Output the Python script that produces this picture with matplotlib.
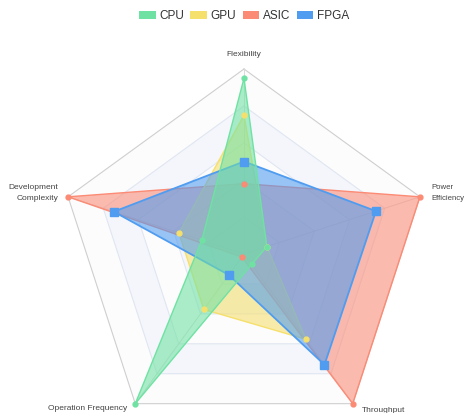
import numpy as np
import matplotlib
matplotlib.use('Agg')
import matplotlib.pyplot as plt
from matplotlib.patches import Patch

indicators = ['Flexibility', 'Power\nEfficiency', 'Throughput',
              'Operation Frequency', 'Development\nComplexity']
series_names = ['CPU', 'GPU', 'ASIC', 'FPGA']
cpu = [95, 13, 7, 100, 24]
gpu = [75, 13, 57, 37, 37]
asic = [38, 100, 100, 2, 100]
fpga = [50, 75, 74, 14, 74]

colors = {'CPU': '#6fe2a3', 'GPU': '#f6e06c', 'ASIC': '#fb8b75', 'FPGA': '#4f9cf0'}
plt.rcParams['font.family'] = ['Liberation Sans', 'DejaVu Sans']

W, H = 465, 413
fig = plt.figure(figsize=(W / 100, H / 100), dpi=100)
cx, cy, R = 244, 254, 185
ax = fig.add_axes([(cx - R) / W, (H - cy - R) / H, 2 * R / W, 2 * R / H],
                  projection='polar')
ax.set_theta_offset(np.pi / 2)
ax.set_theta_direction(-1)
ax.set_ylim(0, 100)
ax.axis('off')

theta = np.linspace(0, 2 * np.pi, len(indicators), endpoint=False)
tc = np.append(theta, theta[0])

# split areas, outer first
band_cols = ['#fcfcfd', '#f4f6fb']
for k in range(5, 0, -1):
    r = 20 * k
    ax.fill(tc, [r] * len(tc), color=band_cols[(k - 1) % 2], lw=0, zorder=0)
for k in range(1, 6):
    r = 20 * k
    ax.plot(tc, [r] * len(tc), color='#cfcfcf' if k == 5 else '#e0e6f1',
            lw=0.8, zorder=0.5, clip_on=False)
for t in theta:
    ax.plot([t, t], [0, 100], color='#dadada', lw=0.7, zorder=0.5, clip_on=False)

data = {'CPU': cpu, 'GPU': gpu, 'ASIC': asic, 'FPGA': fpga}
order = ['ASIC', 'GPU', 'FPGA', 'CPU']
for z, name in enumerate(order):
    v = data[name] + [data[name][0]]
    c = colors[name]
    ax.fill(tc, v, color=c, alpha=0.58, lw=0, zorder=2 + z)
    ax.plot(tc, v, color=c, lw=1.3 if name == 'FPGA' else 1, zorder=2.5 + z,
            clip_on=False)
    # symbols sit above all areas
    if name == 'FPGA':
        ax.plot(theta, data[name], ls='none', color=c, marker='s', ms=6,
                zorder=10 + z, clip_on=False)
    else:
        ax.plot(theta, data[name], ls='none', color=c, marker='o', ms=3.5,
                zorder=10 + z, clip_on=False)

# indicator labels
offsets = [(0, 15, 'center', 6), (11, 4, 'left', 5.6), (9, -6.5, 'left', 6),
           (-8, -5, 'right', 6), (-10, 4, 'right', 6)]
for t, lab, (dx, dy, ha, fs) in zip(theta, indicators, offsets):
    ax.annotate(lab, xy=(t, 100), xytext=(dx, dy), textcoords='offset pixels',
                ha=ha, va='center', multialignment=ha, fontsize=fs,
                color='#444444', linespacing=1.9, annotation_clip=False)

handles = [Patch(facecolor=colors[n], edgecolor='none', label=n) for n in series_names]
fig.legend(handles=handles, loc='center', bbox_to_anchor=(244 / W, 1 - 16 / H),
           ncol=4, frameon=False, fontsize=8.5, handlelength=1.4, handleheight=0.7,
           handletextpad=0.3, columnspacing=0.55, labelcolor='#333333')

plt.savefig('out.png', dpi=100)
